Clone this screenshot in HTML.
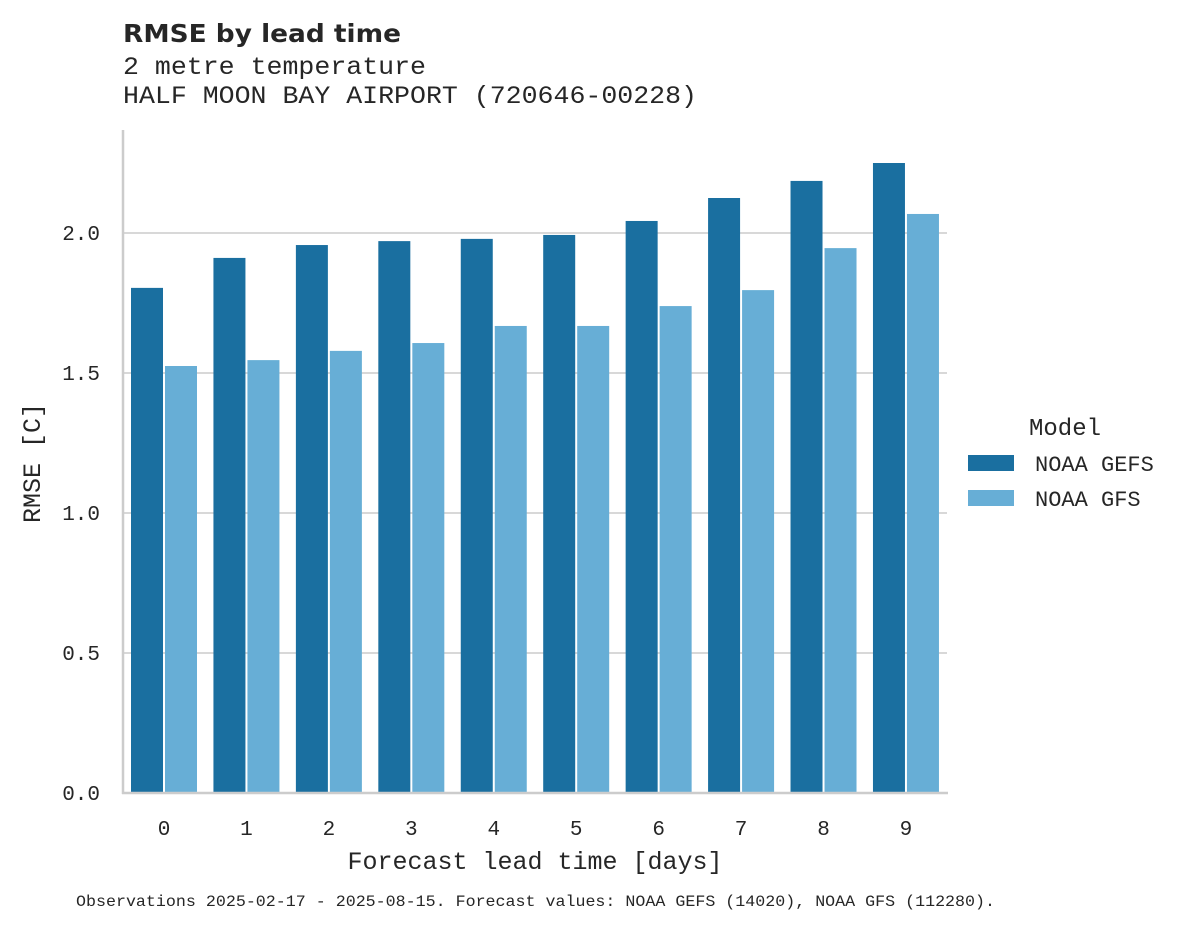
<!DOCTYPE html>
<html><head><meta charset="utf-8"><style>
body{margin:0;background:#fff}
svg text{fill:#262626;font-family:"Liberation Mono",monospace}
</style></head><body>
<svg width="1188" height="928" xmlns="http://www.w3.org/2000/svg">
<g id="plot"></g>
<text x="123" y="42" font-size="25" font-weight="bold" style="font-family:'DejaVu Sans','Liberation Sans',sans-serif" textLength="278" lengthAdjust="spacingAndGlyphs">RMSE by lead time</text>
<text x="123" y="74" font-size="25" textLength="303" lengthAdjust="spacingAndGlyphs">2 metre temperature</text>
<text x="123" y="103" font-size="25" textLength="574" lengthAdjust="spacingAndGlyphs">HALF MOON BAY AIRPORT (720646-00228)</text>
<text x="535" y="869" font-size="25" text-anchor="middle">Forecast lead time [days]</text>
<text transform="translate(40,463) rotate(-90)" font-size="25" text-anchor="middle">RMSE [C]</text>
<g>
<text x="1029" y="435" font-size="24">Model</text>
<rect x="968" y="455" width="46" height="16" fill="#1a6fa0"/>
<text x="1035" y="471" font-size="22">NOAA GEFS</text>
<rect x="968" y="490" width="46" height="16" fill="#67aed6"/>
<text x="1035" y="506" font-size="22">NOAA GFS</text>
</g>
<text x="76" y="906" font-size="16" textLength="919" lengthAdjust="spacingAndGlyphs">Observations 2025-02-17 - 2025-08-15. Forecast values: NOAA GEFS (14020), NOAA GFS (112280).</text>
</svg>
<script>
const categories=[0,1,2,3,4,5,6,7,8,9];
const gefs=[1.804,1.911,1.957,1.971,1.979,1.993,2.043,2.125,2.186,2.25];
const gfs=[1.525,1.546,1.579,1.607,1.668,1.668,1.739,1.796,1.946,2.068];
const yTicks=[0,0.5,1,1.5,2];
const yTickLabels=["0.0","0.5","1.0","1.5","2.0"];
const NS="http://www.w3.org/2000/svg";
const g=document.getElementById('plot');
const y=v=>793-v*280;
const x=i=>164+i*82.44;
const bw=32;
function mk(t,a){const e=document.createElementNS(NS,t);for(const k in a)e.setAttribute(k,a[k]);g.appendChild(e);return e;}
yTicks.forEach((v,i)=>{
 if(v>0){const l=mk('line',{x1:123,x2:947,y1:y(v),y2:y(v),stroke:'#cccccc','stroke-width':1.5});
 
 }
 const t=mk('text',{x:100,y:y(v)+7,'font-size':21,'text-anchor':'end'});t.textContent=yTickLabels[i];
 
 
});
categories.forEach((c,i)=>{
 const r1=mk('rect',{x:x(i)-bw-1,y:y(gefs[i]),width:bw,height:y(0)-y(gefs[i]),fill:'#1a6fa0'});
 
 
 const r2=mk('rect',{x:x(i)+1,y:y(gfs[i]),width:bw,height:y(0)-y(gfs[i]),fill:'#67aed6'});
 
 
 const t=mk('text',{x:x(i),y:835,'font-size':21,'text-anchor':'middle'});t.textContent=c;
 
 
});
const s1=mk('line',{x1:123,x2:123,y1:130,y2:794,stroke:'#cccccc','stroke-width':2.5});


const s2=mk('line',{x1:122,x2:948,y1:793,y2:793,stroke:'#cccccc','stroke-width':2.5});


</script>
</body></html>
